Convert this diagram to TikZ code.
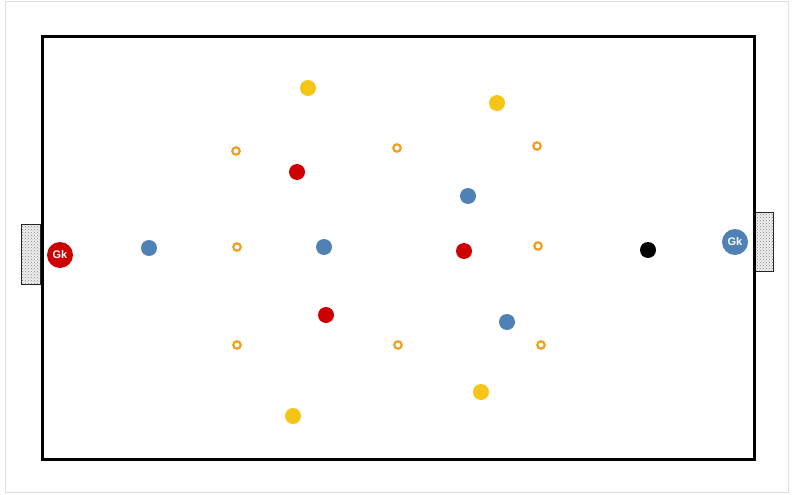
\documentclass[tikz,border=0pt]{standalone}
\usepackage{fontspec}
\setmainfont{Liberation Sans}
\usetikzlibrary{patterns}
\definecolor{pred}{HTML}{CC0000}
\definecolor{pblue}{HTML}{4F81B5}
\definecolor{pyel}{HTML}{F5C518}
\definecolor{pora}{HTML}{F0A020}
\begin{document}
\begin{tikzpicture}[x=1pt,y=-1pt,
  player/.style={circle,minimum size=16pt,inner sep=0pt},
  gk/.style={circle,minimum size=26pt,inner sep=0pt,text=white,font=\bfseries\fontsize{11}{11}\selectfont},
  cone/.style={circle,draw=pora,line width=2.2pt,minimum size=7.5pt,inner sep=0pt},
  goalbox/.style={draw=black!85,line width=0.9pt,pattern=crosshatch dots,pattern color=gray}]
\useasboundingbox (0,0) rectangle (793,495);
\draw[black!12,line width=1pt] (5,2) rectangle (788,492);
% goals
\fill[gray!12] (21,224) rectangle (40,284);
\fill[gray!12] (755,212) rectangle (773,271);
\draw[goalbox] (21,224) rectangle (40,284);
\draw[goalbox] (755,212) rectangle (773,271);
% field
\draw[line width=3pt] (42,37) rectangle (754,459);
% cones
\foreach \n/\x/\y in {c1/236/151,c2/397/148,c3/537/146,c4/237/247,c5/538/246,c6/237/345,c7/398/345,c8/541/345}
  \node[cone] (\n) at (\x,\y) {};
% yellow
\node[player,fill=pyel] (y1) at (308,88) {};
\node[player,fill=pyel] (y2) at (497,103) {};
\node[player,fill=pyel] (y3) at (293,416) {};
\node[player,fill=pyel] (y4) at (481,392) {};
% red
\node[player,fill=pred] (r1) at (297,172) {};
\node[player,fill=pred] (r2) at (464,251) {};
\node[player,fill=pred] (r3) at (326,315) {};
% blue
\node[player,fill=pblue] (b1) at (149,248) {};
\node[player,fill=pblue] (b2) at (324,247) {};
\node[player,fill=pblue] (b3) at (468,196) {};
\node[player,fill=pblue] (b4) at (507,322) {};
% ball
\node[player,fill=black] (ball) at (648,250) {};
% keepers
\node[gk,fill=pred] (gkr) at (60,255) {Gk};
\node[gk,fill=pblue] (gkb) at (735,242) {Gk};
\end{tikzpicture}
\end{document}
